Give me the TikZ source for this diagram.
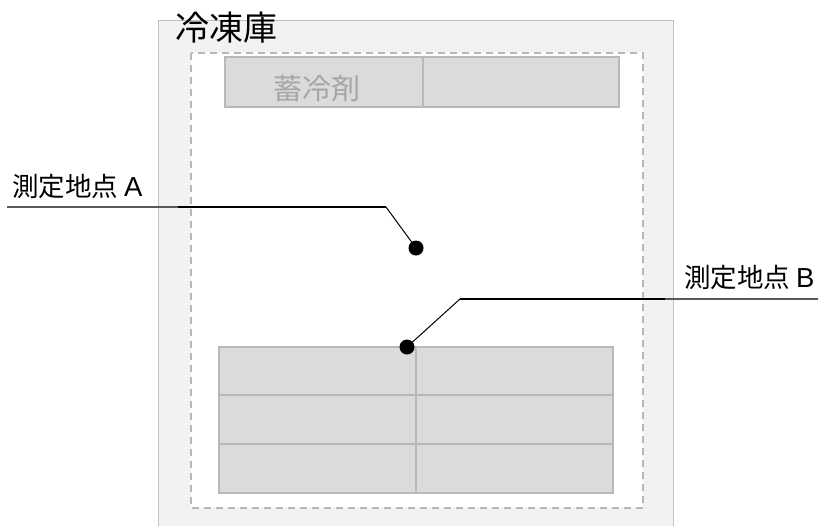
\documentclass[tikz,border=0pt]{standalone}
\usepackage{fontspec}
\setmainfont{Noto Sans CJK JP}
\newfontfamily\latinfont{Liberation Sans}
\newcommand{\ptname}[1]{測定地点\hspace{6pt}{\latinfont\fontsize{27.5}{30}\selectfont #1}}
\begin{document}
\begin{tikzpicture}[x=1pt,y=-1pt,
  freezer/.style={draw=black!25,fill=black!5,line width=1.4pt},
  innerzone/.style={draw=black!28,line width=1.4pt,dash pattern=on 7pt off 5pt,fill=white},
  cell/.style={draw=black!28,fill=black!14,line width=1.4pt},
  leader/.style={draw=black,line width=1.4pt},
  leaderthin/.style={draw=black,line width=1pt},
  underline/.style={draw=black!65,line width=1.2pt},
  spot/.style={circle,fill=black,inner sep=0pt,minimum size=15pt},
  lbl/.style={font=\fontsize{26.5}{30}\selectfont,inner sep=0pt,anchor=base west}]
\useasboundingbox (0,0) rectangle (818,525);
% freezer body
\draw[freezer] (158.5,20.5) rectangle (673.5,540);
\node[lbl,font=\fontsize{34}{38}\selectfont] (title) at (175,40) {冷凍庫};
% inner dashed zone
\draw[innerzone] (191,53) rectangle (643,508);
% cold packs
\draw[cell] (225,57) rectangle (423,107);
\draw[cell] (423,57) rectangle (619,107);
\node[font=\fontsize{29}{32}\selectfont,text=black!35,inner sep=0pt] (pack) at (317,89) {蓄冷剤};
% lower stack
\draw[cell] (219,347) rectangle (416,395);
\draw[cell] (416,347) rectangle (613,395);
\draw[cell] (219,395) rectangle (416,444);
\draw[cell] (416,395) rectangle (613,444);
\draw[cell] (219,444) rectangle (416,493);
\draw[cell] (416,444) rectangle (613,493);
% measurement point A
\node[spot] (dotA) at (416,248) {};
\coordinate (elbowA) at (386,207);
\coordinate (midA) at (178,207);
\coordinate (endA) at (7,207);
\node[lbl] (labA) at (12,196) {\ptname{A}};
\draw[underline] (endA) -- (midA);
\draw[leader] (midA) -- (elbowA);
\draw[leaderthin] (elbowA) -- (dotA.center);
% measurement point B
\node[spot] (dotB) at (407,347) {};
\coordinate (elbowB) at (460,299);
\coordinate (midB) at (665,299);
\coordinate (endB) at (818,299);
\node[lbl] (labB) at (684,287) {\ptname{B}};
\draw[underline] (midB) -- (endB);
\draw[leader] (elbowB) -- (midB);
\draw[leaderthin] (dotB.center) -- (elbowB);
\end{tikzpicture}
\end{document}
